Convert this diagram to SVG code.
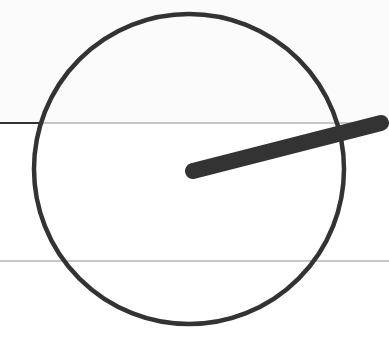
<svg xmlns="http://www.w3.org/2000/svg" width="389" height="345" viewBox="0 0 389 345">
<style>
.bg{fill:#ffffff}
.ref{stroke:#b4b4b4;stroke-width:1.5;fill:none}
.dark{stroke:#333333;fill:none}
</style>
<rect class="bg" x="0" y="0" width="389" height="345"/>
<rect x="0" y="0" width="389" height="122" fill="#fcfbfb"/>
<g id="connectors">
<line class="ref" x1="0" y1="123" x2="389" y2="123"/>
<line class="dark" x1="0" y1="123" x2="40" y2="123" stroke-width="2"/>
<line class="ref" x1="0" y1="261" x2="389" y2="261" stroke="#cccccc"/>
</g>
<g id="circle">
<circle class="dark" cx="189" cy="169" r="155" stroke-width="4.5"/>
</g>
<g id="needle">
<line x1="193" y1="171" x2="381" y2="123" stroke="#333333" stroke-width="16" stroke-linecap="round"/>
</g>
</svg>
